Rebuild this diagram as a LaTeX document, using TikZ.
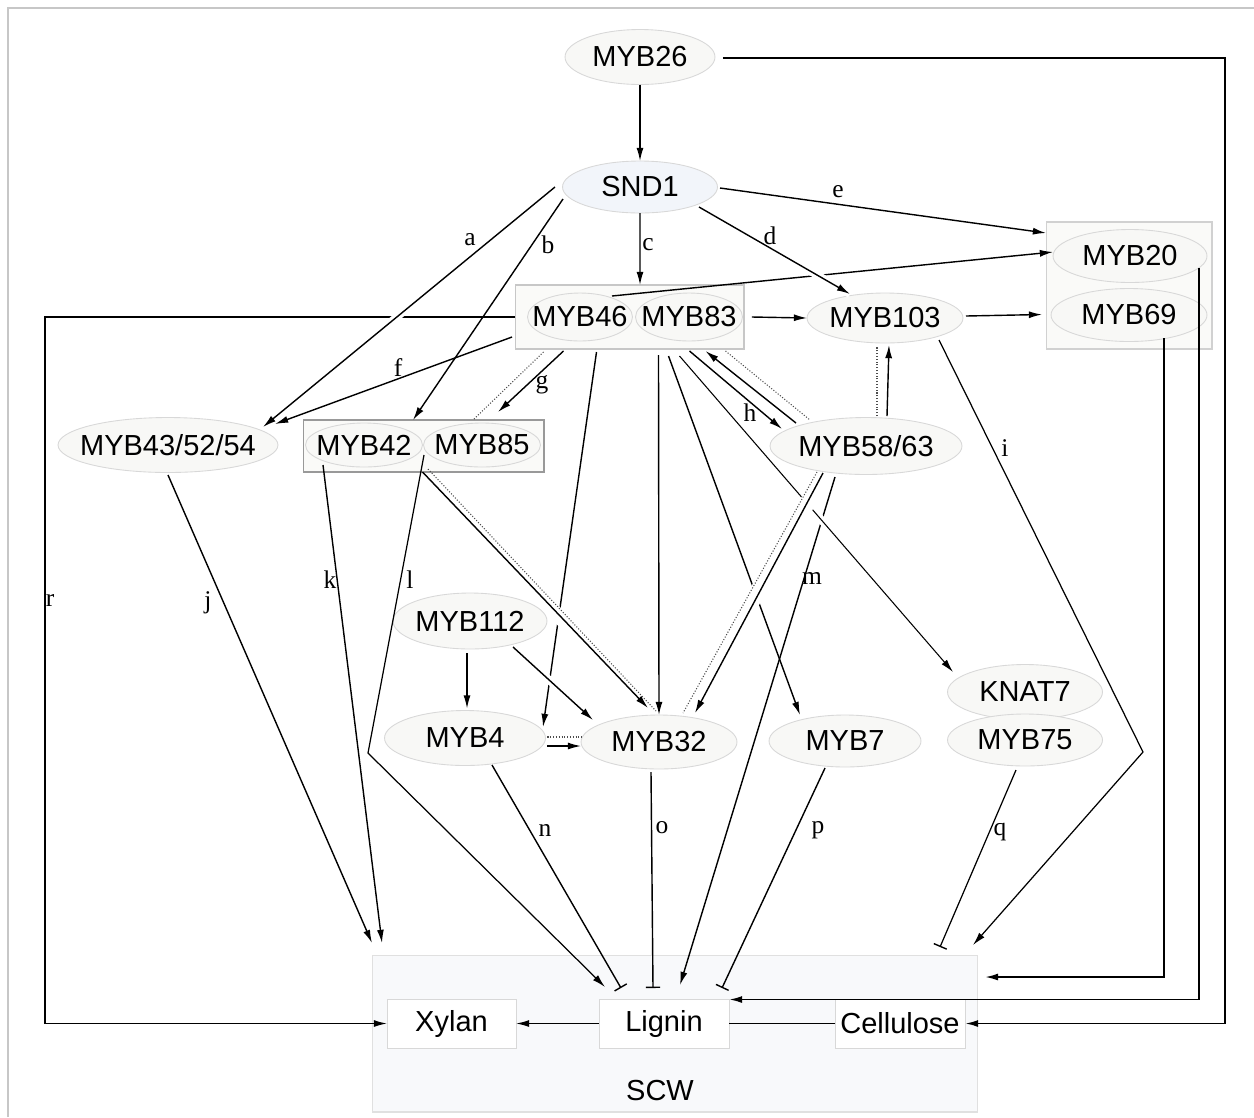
\documentclass[tikz,border=0pt]{standalone}
\usepackage{fontspec}
\setmainfont{Liberation Serif}
\newfontfamily\nodefont{Liberation Sans}
\usetikzlibrary{shapes.geometric,arrows.meta,calc}
\definecolor{efill}{HTML}{F8F8F6}
\definecolor{eline}{HTML}{D8D8D8}
\definecolor{bfill}{HTML}{FAFAF8}
\definecolor{sfill}{HTML}{F8F9FB}
\definecolor{sndfill}{HTML}{F2F5FA}
\newcommand{\zw}[1]{\makebox[0pt]{#1}}
\begin{document}
\begin{tikzpicture}[x=0.02cm,y=-0.02cm,
 every node/.style={inner sep=0pt, outer sep=0pt},
 nt/.style={font=\nodefont\fontsize{16.5}{18}\selectfont},
 ell/.style n args={2}{nt, ellipse, draw=eline, fill=efill, line width=0.5pt, minimum width=#1, minimum height=#2},
 grp/.style n args={2}{rectangle, draw=black!22, fill=bfill, line width=0.6pt, minimum width=#1, minimum height=#2},
 sbox/.style n args={2}{nt, rectangle, draw=eline, fill=white, line width=0.5pt, minimum width=#1, minimum height=#2},
 lbl/.style={font=\fontsize{14.5}{16}\selectfont},
 ln/.style={line width=0.8pt},
 arr/.style={ln, -{Latex[length=7.5pt,width=4pt]}},
 inh/.style={ln, -{Bar[width=8pt,line width=0.8pt]}},
 dot/.style={densely dotted, line width=0.6pt, black!70},
 halo/.style={preaction={draw=white, line width=4.5pt, arrows=-}},
]
\useasboundingbox (0,0) rectangle (1254,1117);
\draw[black!22, line width=1pt] (8,1117) -- (8,8) -- (1254,8);

% group boxes
\node[grp={4.58cm}{1.28cm}] (box46) at (629.5,317) {};
\node[grp={3.32cm}{2.54cm}, draw=black!18] (box20) at (1129,285.5) {};
\node[grp={4.82cm}{1.04cm}, draw=black!40] (box42) at (423.5,446) {};
\node[rectangle, draw=black!12, fill=sfill, line width=0.6pt, minimum width=12.12cm, minimum height=3.14cm] (scw) at (675,1033.5) {};

% ellipse nodes
\node[ell={3.0cm}{1.1cm}] (myb26) at (640,57) {\zw{MYB26}};
\node[ell={3.1cm}{1.04cm}, fill=sndfill] (snd1) at (640,187) {\zw{SND1}};
\node[ell={2.1cm}{0.96cm}] (myb46) at (580,317) {\zw{MYB46}};
\node[ell={2.14cm}{0.96cm}] (myb83) at (689,317) {\zw{MYB83}};
\node[ell={3.12cm}{1.0cm}] (myb103) at (885,318) {\zw{MYB103}};
\node[ell={3.08cm}{1.06cm}] (myb20) at (1130,256) {\zw{MYB20}};
\node[ell={3.12cm}{1.06cm}] (myb69) at (1129,315) {\zw{MYB69}};
\node[ell={4.4cm}{1.1cm}] (myb43) at (168,445) {\zw{MYB43/52/54}};
\node[ell={2.34cm}{0.88cm}] (myb42) at (364,445) {\zw{MYB42}};
\node[ell={2.34cm}{0.88cm}] (myb85) at (482,445) {\zw{MYB85}};
\node[ell={3.84cm}{1.14cm}] (myb58) at (866,446) {\zw{MYB58/63}};
\node[ell={3.08cm}{1.12cm}] (myb112) at (470,621) {\zw{MYB112}};
\node[ell={3.22cm}{1.1cm}] (myb4) at (465,738) {\zw{MYB4}};
\node[ell={3.12cm}{1.08cm}] (myb32) at (659,742) {\zw{MYB32}};
\node[ell={3.04cm}{1.04cm}] (myb7) at (845,741) {\zw{MYB7}};
\node[ell={3.1cm}{1.1cm}] (knat7) at (1025,692) {\zw{KNAT7}};
\node[ell={3.1cm}{1.04cm}] (myb75) at (1025,740) {\zw{MYB75}};

% SCW content
\node[sbox={2.58cm}{0.98cm}] (xylan) at (451.5,1023.5) {Xylan};
\node[sbox={2.6cm}{0.98cm}] (lignin) at (664,1023.5) {Lignin};
\node[sbox={2.6cm}{0.98cm}] (cellulose) at (900,1023.5) {Cellulose};
\node[nt] (scwlabel) at (660,1090) {SCW};

% ---- lines that are interrupted by crossings (drawn first)
\draw[arr] (box46.west) -- ($(box46.west)+(-470,0)$) |- (xylan.west);
\draw[arr] ($(myb46)+(32,-21)$) -- ($(myb20.west)+(0,-4)$);
\draw[arr] ($(box46.south)+(-33,3)$) -- ($(myb4)+(78,-11)$);
\draw[arr] ($(box46.south)+(39,7)$) -- ($(myb7)+(-45,-26)$);
\draw[arr] ($(myb58)+(-31,31)$) -- ($(lignin.north)+(16,-14)$);

% ---- lines that cut others
\draw[arr,halo] ($(snd1)+(-85,0)$) -- ($(myb43)+(95,-18)$);
\draw[arr,halo] ($(snd1)+(59,20)$) -- ($(myb103)+(-35,-24)$);
\draw[white, line width=8pt] ($(box42.south)+(20,18)$) -- ($(myb32)+(-40,-60)$);
\draw[arr] ($(box42.south)+(-1,0)$) -- ($(myb32)+(-11,-34)$);
\draw[dot] ($(box42.south)+(4.5,-3)$) -- ($(myb32)+(-3,-31)$);
\draw[arr,halo] ($(myb112)+(43,26)$) -- ($(myb32)+(-66,-22)$);
\draw[arr,halo,line width=0.6pt] ($(box46.south)+(50,7)$) -- ($(knat7)+(-72,-20)$);
\draw[white, line width=9pt] ($(myb58)+(-52,45)$) -- ($(myb32)+(42,-50)$);
\draw[arr] ($(myb58)+(-43,27)$) -- ($(myb32)+(36,-29)$);
\draw[dot] ($(myb58)+(-49,26)$) -- ($(myb32)+(24,-29)$);

% ---- other connectors
\draw[arr] (myb26) -- (snd1);
\draw[arr, line width=1.1pt] ($(myb26.east)+(8,1)$) -- ++(502,0) |- (cellulose.east);
\draw[arr] ($(snd1)+(-77,12)$) -- ($(box42.north)+(-10.5,0)$);
\draw[arr] (snd1.south) -- ($(box46.north)+(10.5,0)$);
\draw[arr] ($(snd1)+(80,1)$) -- ($(box20.west)+(0,-52.5)$);
\draw[arr] ($(box46.east)+(8,0)$) -- (myb103.west);
\draw[arr] ($(myb103.east)+(3,-2)$) -- ($(box20.west)+(-4,29)$);
\draw[arr] ($(box46.west)+(-3,20)$) -- ($(myb43)+(107,-21)$);
\draw[arr] ($(box46.south)+(-66,2)$) -- ($(box42.north)+(74.5,-8)$);
\draw[dot] ($(box46.south)+(-86,3)$) -- ($(box42.north)+(49.5,0)$);
\draw[arr] ($(box46.south)+(29,6)$) -- (myb32.north);
\draw[arr] ($(box46.south)+(60,2)$) -- ($(myb58)+(-84,-17)$);
\draw[arr] ($(myb58)+(-70,-23)$) -- ($(box46.south)+(76,2)$);
\draw[dot] ($(box46.south)+(96,2)$) -- ($(myb58)+(-56,-26)$);
\draw[arr] ($(myb58)+(21,-30)$) -- ($(myb103)+(4,27)$);
\draw[dot] ($(myb58)+(11,-30)$) -- ($(myb103)+(-8,28)$);
\draw[arr, line width=0.7pt] ($(myb103)+(54,22)$) -- ($(myb103)+(258,434)$) -- ($(scw.north)+(298,-10)$);
\draw[arr, line width=1.1pt] ($(myb69)+(35,23)$) |- ($(scw.east)+(7,-56.5)$);
\draw[arr, line width=1.1pt] ($(myb20)+(69,12)$) |- ($(lignin.east)+(0,-24)$);
\draw[arr] ($(myb43)+(0,30)$) -- ($(scw.north)+(-303,-12)$);
\draw[arr] ($(myb42)+(-41,20)$) -- ($(scw.north)+(-293,-12)$);
\draw[arr, line width=0.7pt] ($(myb85)+(-58,10)$) -- ($(myb4)+(-97,15)$) -- ($(lignin.north)+(-59,-12)$);
\draw[arr] ($(myb112.south)+(-3,4)$) -- ($(myb4.north)+(2,-2)$);
\draw[arr] ($(myb4.east)+(2,8)$) -- ($(myb32.west)+(0,4)$);
\draw[dot] ($(myb4.east)+(2,-1)$) -- ($(myb32.west)+(2,-5)$);
\draw[inh] ($(myb4)+(27,27)$) -- ($(lignin.north)+(-43,-11)$);
\draw[inh] ($(myb32)+(-8,30)$) -- ($(lignin.north)+(-11,-11)$);
\draw[inh] ($(myb7)+(-20,27)$) -- ($(lignin.north)+(58,-11)$);
\draw[inh, line width=0.7pt] ($(myb75)+(-9,30)$) -- ($(scw.north)+(265,-8)$);
\draw[arr] (lignin.west) -- (xylan.east);
\draw[ln] (cellulose.west) -- (lignin.east);

% ---- edge labels
\node[lbl] (la) at (470,240) {a};
\node[lbl] (lb) at (548,245) {b};
\node[lbl] (lc) at (648,245) {c};
\node[lbl] (ld) at (770,236) {d};
\node[lbl] (le) at (838,192) {e};
\node[lbl] (lf) at (398,368) {f};
\node[lbl] (lg) at (542,385) {g};
\node[lbl] (lh) at (750,413) {h};
\node[lbl] (li) at (1005,448) {i};
\node[lbl] (lj) at (208,603) {j};
\node[lbl] (lk) at (330,580) {k};
\node[lbl] (ll) at (410,580) {l};
\node[lbl] (lm) at (812,578) {m};
\node[lbl] (ln) at (545,830) {n};
\node[lbl] (lo) at (662,828) {o};
\node[lbl] (lp) at (818,830) {p};
\node[lbl] (lq) at (1000,832) {q};
\node[lbl] (lr) at (50,600) {r};
\end{tikzpicture}
\end{document}
